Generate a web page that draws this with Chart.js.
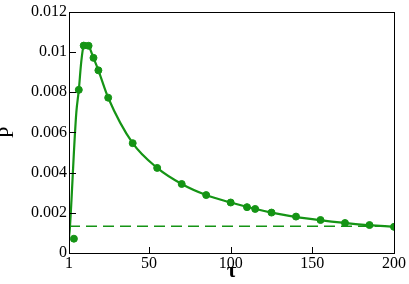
<!DOCTYPE html>
<html>
<head>
<meta charset="utf-8">
<script src="https://cdn.jsdelivr.net/npm/chart.js@4"></script>
<style>
  html, body { margin: 0; padding: 0; background: #fff; }
  #wrap { width: 409px; height: 284px; position: relative; }
</style>
</head>
<body>
<div id="wrap"><canvas id="chart"></canvas></div>
<script>
// measured points
const tauPoints = [4, 7, 10, 13, 16, 19, 25, 40, 55, 70, 85, 100, 110, 115, 125, 140, 155, 170, 185, 200];
const pPoints = [0.00071, 0.00811, 0.01031, 0.0103, 0.0097, 0.00908, 0.00772, 0.00546, 0.00423, 0.00343,
                 0.00288, 0.00251, 0.00228, 0.00219, 0.00201, 0.00181, 0.00164, 0.00149, 0.00139, 0.0013];

// fitted curve
const tauCurve = [1, 1.5, 2.5, 4, 5.5, 7, 8.5, 10, 11.5, 13, 16, 19, 25, 40, 55, 70, 85, 100, 125, 150, 175, 200];
const pCurve = [0.0008, 0.0012, 0.0026, 0.0050, 0.0070, 0.0081, 0.0095, 0.01032, 0.01042, 0.0103, 0.0097, 0.00908,
                0.00772, 0.00546, 0.00423, 0.00343, 0.00288, 0.00251, 0.00201, 0.00168, 0.00145, 0.0013];

// horizontal reference level
const refLevel = 0.00133;
const refTau = [1, 200];

const xTicks = [1, 50, 100, 150, 200];
const yTicks = [0, 0.002, 0.004, 0.006, 0.008, 0.01, 0.012];
const yTickLabels = ['0', '0.002', '0.004', '0.006', '0.008', '0.01', '0.012'];

const GREEN = '#159415';
const SERIF = '"Liberation Serif", "DejaVu Serif", serif';

// frame + inward tick marks
const framePlugin = {
    id: 'frame',
    afterDraw(chart) {
        const { ctx, chartArea: a, scales } = chart;
        ctx.save();
        ctx.strokeStyle = '#000';
        ctx.lineWidth = 1;
        ctx.strokeRect(Math.round(a.left) + 0.5, Math.round(a.top) + 0.5,
                       Math.round(a.right - a.left), Math.round(a.bottom - a.top));
        ctx.beginPath();
        xTicks.forEach(v => {
            const x = Math.round(scales.x.getPixelForValue(v)) + 0.5;
            ctx.moveTo(x, a.bottom);
            ctx.lineTo(x, a.bottom - 6);
        });
        yTicks.forEach(v => {
            const y = Math.round(scales.y.getPixelForValue(v)) + 0.5;
            ctx.moveTo(a.left, y);
            ctx.lineTo(a.left + 7, y);
        });
        ctx.stroke();
        ctx.restore();
    }
};

new Chart(document.getElementById('chart'), {
    type: 'scatter',
    data: {
        datasets: [
            {
                label: 'ref',
                data: refTau.map(t => ({ x: t, y: refLevel })),
                showLine: true,
                borderColor: GREEN,
                borderWidth: 1.6,
                borderDash: [11, 6],
                pointRadius: 0,
                fill: false,
            },
            {
                label: 'fit',
                data: tauCurve.map((t, i) => ({ x: t, y: pCurve[i] })),
                showLine: true,
                borderColor: GREEN,
                borderWidth: 2.2,
                cubicInterpolationMode: 'monotone',
                pointRadius: 0,
                fill: false,
            },
            {
                label: 'data',
                data: tauPoints.map((t, i) => ({ x: t, y: pPoints[i] })),
                showLine: false,
                backgroundColor: GREEN,
                borderColor: GREEN,
                pointRadius: 3.5,
            }
        ]
    },
    options: {
        responsive: true,
        maintainAspectRatio: false,
        animation: false,
        layout: { padding: { top: 6, right: 15, left: 0, bottom: 0 } },
        plugins: {
            legend: { display: false },
            tooltip: { enabled: false }
        },
        scales: {
            x: {
                type: 'linear',
                min: 1,
                max: 200,
                afterBuildTicks: (s) => { s.ticks = xTicks.map(v => ({ value: v })); },
                afterFit: (s) => { s.height = 31; },
                grid: { display: false, drawTicks: false },
                border: { display: false },
                ticks: {
                    color: '#000',
                    padding: 1,
                    maxRotation: 0,
                    font: { family: SERIF, size: 16 }
                },
                title: {
                    display: true,
                    text: 'τ',
                    color: '#000',
                    padding: { top: 0, bottom: 0 },
                    font: { family: SERIF, size: 21, weight: 'bold' }
                }
            },
            y: {
                min: 0,
                max: 0.012,
                afterBuildTicks: (s) => { s.ticks = yTicks.map(v => ({ value: v })); },
                afterFit: (s) => { s.width = 69; },
                grid: { display: false, drawTicks: false },
                border: { display: false },
                ticks: {
                    color: '#000',
                    padding: 2,
                    font: { family: SERIF, size: 16 },
                    callback: (v) => {
                        const i = yTicks.findIndex(t => Math.abs(t - v) < 1e-9);
                        return i >= 0 ? yTickLabels[i] : '';
                    }
                },
                title: {
                    display: true,
                    text: 'P',
                    color: '#000',
                    padding: { top: -5, bottom: 0 },
                    font: { family: SERIF, size: 21, weight: 'normal' }
                }
            }
        }
    },
    plugins: [framePlugin]
});
</script>
</body>
</html>
